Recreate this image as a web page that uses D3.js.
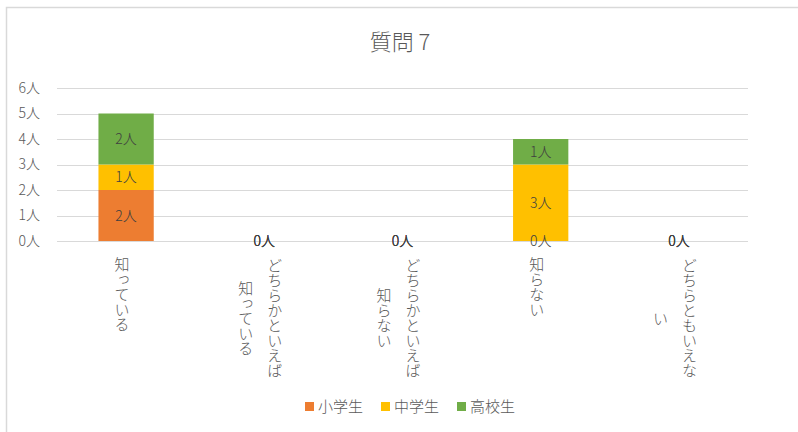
<!DOCTYPE html>
<html>
<head>
<meta charset="utf-8">
<script src="https://cdn.jsdelivr.net/npm/d3@7"></script>
<style>
  body { margin: 0; background: #fff; }
  text { font-family: "Noto Sans CJK JP", "Noto Sans", sans-serif; font-weight: 300; }
</style>
</head>
<body>
<div id="chart"></div>
<script>
/* CONSTANTS AND GLOBALS */
const width = 798;
const height = 432;

const categories = ["知っている", "どちらかといえば知っている", "どちらかといえば知らない", "知らない", "どちらともいえない"];
const seriesNames = ["小学生", "中学生", "高校生"];
const elementary = [2, 0, 0, 0, 0];
const juniorHigh = [1, 0, 0, 3, 0];
const highSchool = [2, 0, 0, 1, 0];
const yTicks = [0, 1, 2, 3, 4, 5, 6];
const colors = ["#ED7D31", "#FFC000", "#70AD47"];

// build table for stack
const table = categories.map((c, i) => ({
    cat: c,
    "小学生": elementary[i],
    "中学生": juniorHigh[i],
    "高校生": highSchool[i]
}));

const svg = d3.select("#chart")
    .append("svg")
    .attr("width", width)
    .attr("height", height);

// chart frame
svg.append("rect")
    .attr("x", 6.5)
    .attr("y", 7.5)
    .attr("width", width + 10)
    .attr("height", height + 10)
    .attr("fill", "none")
    .attr("stroke", "#D9D9D9")
    .attr("stroke-width", 1.5);

/* SCALES */
const xScale = d3.scaleBand()
    .domain(categories)
    .range([57, 748])
    .paddingInner(0.6)
    .paddingOuter(0.3);

const yScale = d3.scaleLinear()
    .domain([0, 6])
    .range([241, 88]);

// title
svg.append("text")
    .attr("x", 400)
    .attr("y", 50)
    .attr("text-anchor", "middle")
    .attr("fill", "#595959")
    .style("font-size", "22px")
    .text("質問 7");

// gridlines
svg.append("g")
    .selectAll("line")
    .data(yTicks)
    .join("line")
    .attr("x1", 57)
    .attr("x2", 748)
    .attr("y1", d => Math.round(yScale(d)) + 0.5)
    .attr("y2", d => Math.round(yScale(d)) + 0.5)
    .attr("stroke", "#D9D9D9")
    .attr("stroke-width", 1);

// y axis labels
const yAxis = d3.axisLeft(yScale)
    .tickValues(yTicks)
    .tickFormat(d => d + "人")
    .tickSize(0)
    .tickPadding(17);
const yG = svg.append("g")
    .attr("transform", "translate(57,0)")
    .call(yAxis);
yG.select(".domain").remove();
yG.selectAll("text")
    .attr("fill", "#595959")
    .style("font-size", "14px")
    .style("font-family", '"Noto Sans CJK JP", sans-serif');

/* BARS */
const stack = d3.stack().keys(seriesNames)(table);

const layers = svg.append("g")
    .selectAll("g")
    .data(stack)
    .join("g")
    .attr("fill", (d, i) => colors[i]);

layers.selectAll("rect")
    .data(d => d)
    .join("rect")
    .attr("x", d => xScale(d.data.cat))
    .attr("width", xScale.bandwidth())
    .attr("y", d => yScale(d[1]))
    .attr("height", d => yScale(d[0]) - yScale(d[1]));

// data labels (zero labels overlap, which looks bold like the original)
const labels = svg.append("g");
stack.forEach(layer => {
    labels.selectAll(null)
        .data(layer)
        .join("text")
        .attr("x", d => xScale(d.data.cat) + xScale.bandwidth() / 2)
        .attr("y", d => yScale((d[0] + d[1]) / 2) + 5)
        .attr("text-anchor", "middle")
        .attr("fill", "#404040")
        .style("font-size", "14px")
        .text(d => (d[1] - d[0]) + "人");
});

// category labels, vertical, wrapped at 8 characters
const wrapLen = 8;
const charH = 15.8;
const colGap = 29;
const xLabels = svg.append("g");
categories.forEach(c => {
    const cols = [];
    for (let i = 0; i < c.length; i += wrapLen) cols.push(c.slice(i, i + wrapLen));
    const maxLen = d3.max(cols, s => s.length);
    const cx = xScale(c) + xScale.bandwidth() / 2;
    const midY = 255 + maxLen * charH / 2;
    cols.forEach((s, j) => {
        const x = cx + ((cols.length - 1) / 2 - j) * colGap - 4;
        xLabels.append("text")
            .attr("x", x)
            .attr("y", midY)
            .attr("text-anchor", "middle")
            .style("writing-mode", "vertical-rl")
            .style("font-size", "15px")
            .attr("fill", "#595959")
            .text(s);
    });
});

// legend
const legendX = [305, 381, 457];
const legend = svg.append("g")
    .selectAll("g")
    .data(seriesNames)
    .join("g")
    .attr("transform", (d, i) => `translate(${legendX[i]},402)`);
legend.append("rect")
    .attr("width", 9)
    .attr("height", 9)
    .attr("fill", (d, i) => colors[i]);
legend.append("text")
    .attr("x", 13)
    .attr("y", 10)
    .attr("fill", "#595959")
    .style("font-size", "15px")
    .text(d => d);
</script>
</body>
</html>
